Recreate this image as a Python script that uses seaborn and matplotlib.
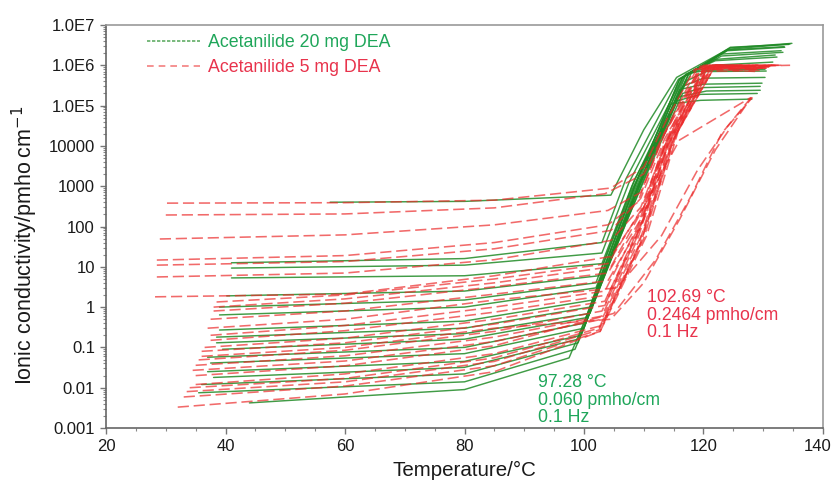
import numpy as np
import pandas as pd
import matplotlib
matplotlib.use("Agg")
import matplotlib.pyplot as plt
from matplotlib.lines import Line2D
from matplotlib.transforms import ScaledTranslation
from matplotlib.ticker import FixedLocator, FixedFormatter, LogLocator, MultipleLocator, NullFormatter
import seaborn as sns

# ---------------- data (knots) ----------------
# Acetanilide 20 mg DEA (green, solid)
G_T0 = [57.5, 41, 41, 41, 40.2, 39, 39, 39, 38.5, 38.5, 37, 37.5, 37, 36, 35.5, 44, 39.5, 38]
G_V0 = [400, 12.6, 9.3, 5.3, 1.9, 1.0, 0.64, 0.27, 0.18, 0.13, 0.057, 0.041, 0.025, 0.012, 0.0075, 0.0042, 0.09, 0.018]
G_V80 = [420, 16, 11, 6, 2.5, 1.5, 1.0, 0.45, 0.3, 0.22, 0.1, 0.07, 0.045, 0.022, 0.014, 0.009, 0.16, 0.032]
G_TK = [104.5, 103, 103, 103, 102.5, 102, 102, 101.5, 101, 101, 100, 100, 99.5, 99, 98.5, 97.5, 100.5, 99]
G_VK = [600, 40, 22, 12, 6, 4, 3, 1.5, 1.0, 0.7, 0.4, 0.3, 0.2, 0.13, 0.09, 0.055, 0.55, 0.16]
G_TS = [110, 107, 107.5, 108, 108, 108.5, 109, 109, 109.5, 110, 108.5, 108.5, 109, 109.5, 110, 110.5, 109, 108]
G_VS = [2.5e4, 1500, 1200, 1000, 800, 1500, 1500, 1000, 1200, 2000, 1000, 800, 900, 1200, 1500, 2000, 1000, 700]
G_TB = [115.5, 115.8, 116.5, 117, 117.5, 118, 116.5, 116, 115.5, 114.5, 116, 116.5, 117, 117.5, 117, 116.5, 115.5, 116]
G_VB = [5e5, 4.5e5, 5e5, 6e5, 6e5, 6.5e5, 3e5, 2.5e5, 1.6e5, 1.1e5, 4.5e5, 5e5, 5.5e5, 6e5, 4e5, 2e5, 1.3e5, 4.5e5]
G_TP = [124.5, 124, 123, 122, 121.5, 120.5, 120, 120, 120.5, 119.5, 124.5, 124, 123, 122, 120.5, 120, 119.5, 124.2]
G_VP = [2.7e6, 2.3e6, 1.7e6, 1.3e6, 1.0e6, 7.5e5, 4.8e5, 3.4e5, 2.3e5, 1.35e5, 2.8e6, 2.4e6, 1.9e6, 1.4e6, 7e5, 2.8e5, 1.9e5, 2.5e6]
G_TE = [134.8, 133.6, 133.3, 132.3, 131.6, 130.3, 130.3, 129.8, 129.5, 128.1, 134.3, 133.5, 133, 132, 130.5, 129.5, 129, 134.5]
G_VE = [3.5e6, 2.8e6, 2.1e6, 1.6e6, 1.2e6, 8e5, 5e5, 3.6e5, 2.4e5, 1.45e5, 3.3e6, 2.9e6, 2.3e6, 1.8e6, 7.2e5, 3e5, 2e5, 3.4e6]

# Acetanilide 5 mg DEA (red, dashed)
R_T0 = [30.2, 30, 29, 28.5, 28.5, 28.5, 28.2, 38.5, 38, 37.5, 37.5, 37.5, 36.5, 36, 35.5, 35, 34.5, 35, 34, 33.5, 33, 32,
        36, 35, 37, 38]
R_V0 = [380, 193, 49, 14.7, 11, 5.6, 1.8, 1.34, 0.8, 0.5, 0.2, 0.15, 0.1, 0.08, 0.049, 0.036, 0.027, 0.012, 0.01, 0.008, 0.0059, 0.0033,
        0.06, 0.02, 0.3, 1.0]
R_V60 = [390, 205, 62, 19, 13.5, 7, 2.1, 2.0, 1.25, 0.8, 0.35, 0.26, 0.17, 0.13, 0.085, 0.062, 0.046, 0.022, 0.017, 0.014, 0.011, 0.007,
         0.1, 0.035, 0.5, 1.6]
R_V85 = [450, 290, 110, 40, 28, 15, 6, 5, 3.2, 2.1, 1.0, 0.75, 0.5, 0.38, 0.25, 0.18, 0.14, 0.07, 0.055, 0.045, 0.035, 0.025,
         0.3, 0.11, 1.5, 4]
R_TK = [104.5, 103.5, 104, 104, 104.5, 104.5, 104.5, 104, 104, 104, 103.5, 104, 103.5, 103.5, 103, 103, 103, 103, 102.5, 102.5, 102.7, 102.7,
        104.5, 105, 105.5, 104.5]
R_VK = [900, 650, 250, 110, 80, 45, 18, 12, 7, 4.5, 2.5, 2.0, 1.4, 1.1, 0.8, 0.6, 0.5, 0.35, 0.3, 0.27, 0.25, 0.25,
        0.5, 0.7, 3, 10]
R_TS1 = [110, 110, 109.5, 109, 109.5, 109.5, 110, 109.5, 110, 110, 109, 109.5, 109, 109.5, 109, 109, 110, 109.5, 109, 110, 109.5, 110.5,
         110, 112, 113, 110]
R_VS1 = [3000, 2000, 700, 400, 500, 300, 300, 250, 200, 150, 100, 100, 80, 100, 60, 50, 80, 40, 30, 50, 40, 60,
         4, 15, 60, 300]
R_TS2 = [114, 114, 113.5, 113, 113.5, 114, 114, 113.5, 114, 114.5, 113, 114, 113.5, 114, 113.5, 114, 115, 114.5, 114, 115, 115.5, 116,
         116, 118, 119, 113.5]
R_VS2 = [5e4, 3e4, 2e4, 1.5e4, 1.5e4, 1.5e4, 1.2e4, 1e4, 1e4, 1e4, 8e3, 1e4, 1e4, 1.2e4, 1e4, 1e4, 1.5e4, 1e4, 8e3, 1.5e4, 2e4, 3e4,
         150, 600, 2500, 3000]
R_TT = [118.5, 119, 119.5, 120, 120.5, 121, 121.5, 120, 121, 120.5, 119, 120, 119.5, 120.5, 121, 121.5, 122, 121, 120, 121.5, 122, 122,
        122, 123, 124, 116]
R_VT = [8e5, 9e5, 9.5e5, 1e6, 1e6, 1e6, 1e6, 9e5, 9e5, 8e5, 7e5, 8e5, 8.5e5, 9e5, 1e6, 1e6, 1e6, 9e5, 8e5, 9e5, 1e6, 1e6,
        8e3, 2e4, 3e4, 1.4e4]
R_TE = [131, 134.5, 130, 132, 131, 130, 133, 129, 131, 129, 130, 128.5, 130.5, 132, 129.5, 131.5, 130, 129, 131, 130, 133, 131.5,
        128, 128, 128.2, 127.8]
R_VE = [8.5e5, 1.0e6, 9.5e5, 1e6, 9.5e5, 8.5e5, 1e6, 8e5, 9e5, 7e5, 7.5e5, 8e5, 8.5e5, 9.5e5, 9e5, 1e6, 9e5, 8e5, 9e5, 8.5e5, 1e6, 9.5e5,
        1.6e5, 1.6e5, 1.6e5, 1.55e5]

LABEL_G = "Acetanilide 20 mg DEA"
LABEL_R = "Acetanilide 5 mg DEA"
ANN_G = ["97.28 \u00b0C", "0.060 pmho/cm", "0.1 Hz"]
ANN_R = ["102.69 \u00b0C", "0.2464 pmho/cm", "0.1 Hz"]
X_TICKS = [20, 40, 60, 80, 100, 120, 140]
Y_TICKS = [1e-3, 1e-2, 1e-1, 1, 10, 100, 1000, 1e4, 1e5, 1e6, 1e7]
Y_TICK_LABELS = ["0.001", "0.01", "0.1", "1", "10", "100", "1000", "10000", "1.0E5", "1.0E6", "1.0E7"]

# ---------------- build long-form table ----------------
rows = []
for i in range(len(G_T0)):
    ts = [G_T0[i], 80, G_TK[i], G_TS[i], G_TB[i], G_TP[i], G_TE[i]]
    vs = [G_V0[i], G_V80[i], G_VK[i], G_VS[i], G_VB[i], G_VP[i], G_VE[i]]
    for k, (t, v) in enumerate(zip(ts, vs)):
        rows.append(("g", f"g{i}", k, t, v))
for i in range(len(R_T0)):
    ts = [R_T0[i], 60, 85, R_TK[i], R_TS1[i], R_TS2[i], R_TT[i], R_TE[i]]
    vs = [R_V0[i], R_V60[i], R_V85[i], R_VK[i], R_VS1[i], R_VS2[i], R_VT[i], R_VE[i]]
    for k, (t, v) in enumerate(zip(ts, vs)):
        rows.append(("r", f"r{i}", k, t, v))
df = pd.DataFrame(rows, columns=["series", "curve", "order", "T", "v"])
df = df.sort_values(["curve", "order"])

# ---------------- plot ----------------
sns.set_style("ticks")
plt.rcParams["font.family"] = ["Liberation Sans", "DejaVu Sans"]

GREEN_LINE = "#1f8a25"
RED_LINE = "#ec2b2b"
GREEN_TXT = "#1fa65a"
RED_TXT = "#e8334c"

fig = plt.figure(figsize=(8.35, 4.87), dpi=100)
ax = fig.add_axes([0.127, 0.1211, 0.8586, 0.8276])

sns.lineplot(data=df[df.series == "g"], x="T", y="v", units="curve", estimator=None, sort=False,
             color=GREEN_LINE, lw=1.05, alpha=0.85, ax=ax, legend=False)
sns.lineplot(data=df[df.series == "r"], x="T", y="v", units="curve", estimator=None, sort=False,
             color=RED_LINE, lw=1.15, alpha=0.7, ax=ax, legend=False, linestyle=(0, (7, 3)))

ax.set_yscale("log")
ax.set_xlim(20, 140)
ax.set_ylim(1e-3, 1e7)
ax.yaxis.set_major_locator(FixedLocator(Y_TICKS))
ax.yaxis.set_major_formatter(FixedFormatter(Y_TICK_LABELS))
ax.yaxis.set_minor_locator(LogLocator(base=10, subs=np.arange(2, 10), numticks=100))
ax.yaxis.set_minor_formatter(NullFormatter())
ax.xaxis.set_major_locator(FixedLocator(X_TICKS))
ax.xaxis.set_minor_locator(MultipleLocator(5))

ax.tick_params(axis="both", which="major", direction="out", length=4, width=1, color="#777777",
               labelsize=12, labelcolor="#1a1a1a", pad=4)
ax.tick_params(axis="both", which="minor", direction="out", length=2.5, width=0.8, color="#888888")
for s in ["left", "bottom"]:
    ax.spines[s].set_color("#666666")
    ax.spines[s].set_linewidth(1.2)
for s in ["top", "right"]:
    ax.spines[s].set_color("#999999")
    ax.spines[s].set_linewidth(1.2)

# keep the last x tick label ("140") inside the canvas
last_tick = ax.xaxis.get_major_ticks()[-1]
last_tick.label1.set_transform(last_tick.label1.get_transform()
                               + ScaledTranslation(-4 / 72, 0, fig.dpi_scale_trans))

ax.set_xlabel("Temperature/\u00b0C", fontsize=14.8, color="#1a1a1a")
ax.set_ylabel("Ionic conductivity/pmho\u2009cm$^{-1}$", fontsize=15.5, color="#1a1a1a")
ax.xaxis.set_label_coords(0.5, -0.082)
ax.yaxis.set_label_coords(-0.092, 0.454)

# legend
handles = [Line2D([0], [0], color=GREEN_LINE, lw=1.2, alpha=0.7, linestyle=(0, (2, 1))),
           Line2D([0], [0], color=RED_LINE, lw=1.2, alpha=0.6, linestyle=(0, (4, 3)))]
leg = ax.legend(handles, [LABEL_G, LABEL_R], loc="upper left", bbox_to_anchor=(0.035, 1.018),
                frameon=False, fontsize=12.8, handlelength=3.0, handletextpad=0.45, labelspacing=0.45)
for txt, c in zip(leg.get_texts(), [GREEN_TXT, RED_TXT]):
    txt.set_color(c)

# annotations
ANN_G_Y = [0.0104, 0.00372, 0.00141]
ANN_R_Y = [1.34, 0.479, 0.181]
for s, y in zip(ANN_G, ANN_G_Y):
    ax.text(92.3, y, s, color=GREEN_TXT, fontsize=12.7, va="baseline", ha="left")
for s, y in zip(ANN_R, ANN_R_Y):
    ax.text(110.5, y, s, color=RED_TXT, fontsize=12.7, va="baseline", ha="left")

fig.savefig("out.png", dpi=100)
